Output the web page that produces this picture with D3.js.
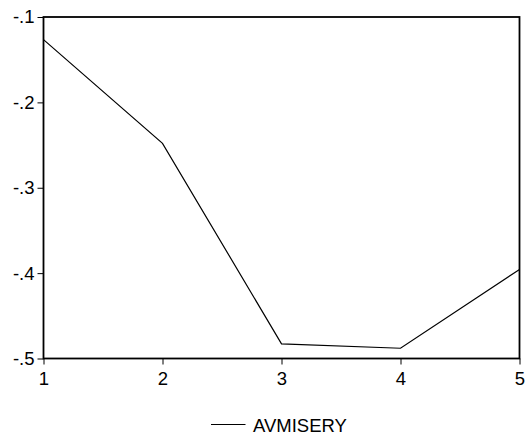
<!DOCTYPE html>
<html><head><meta charset="utf-8">
<script src="https://cdn.jsdelivr.net/npm/d3@7"></script>
<style>
html,body{margin:0;padding:0;background:#fff;}
text{font-family:"Liberation Sans",Arial,sans-serif;fill:#000;}
</style></head>
<body>
<svg id="c" width="526" height="438"></svg>
<script>
const categories = [1, 2, 3, 4, 5];
const avmisery = [-0.1265, -0.248, -0.4828, -0.488, -0.3957];
const yTicks = [-0.1, -0.2, -0.3, -0.4, -0.5];
const yTickLabels = ["-.1", "-.2", "-.3", "-.4", "-.5"];
const seriesName = "AVMISERY";

const svg = d3.select("#c");
const L = 43.5, R = 519.5, T = 17, B = 358.5;
const x = d3.scaleLinear().domain([1, 5]).range([L, R]);
const y = d3.scaleLinear().domain([-0.5, -0.1]).range([B, T]);

// frame
svg.append("rect").attr("x", L).attr("y", T).attr("width", R - L).attr("height", B - T)
  .attr("fill", "none").attr("stroke", "#000").attr("stroke-width", 1.8);

// y axis
const yAxis = d3.axisLeft(y).tickValues(yTicks).tickSize(6).tickPadding(3)
  .tickFormat((d, i) => yTickLabels[i]);
const gy = svg.append("g").attr("transform", `translate(${L},0)`).call(yAxis);
gy.select(".domain").remove();
gy.selectAll("line").attr("stroke", "#000");
gy.selectAll("text").attr("font-size", 18.5).attr("font-family", "Liberation Sans, Arial, sans-serif");

// x axis
const xAxis = d3.axisBottom(x).tickValues(categories).tickSize(6).tickPadding(7)
  .tickFormat(d3.format("d"));
const gx = svg.append("g").attr("transform", `translate(0,${B})`).call(xAxis);
gx.select(".domain").remove();
gx.selectAll("line").attr("stroke", "#000");
gx.selectAll("text").attr("font-size", 18.5).attr("font-family", "Liberation Sans, Arial, sans-serif");

// line
const line = d3.line().x((d, i) => x(categories[i])).y(d => y(d));
svg.append("path").datum(avmisery).attr("d", line)
  .attr("fill", "none").attr("stroke", "#000").attr("stroke-width", 1.2);

// legend
svg.append("line").attr("x1", 211).attr("x2", 245.5).attr("y1", 424.5).attr("y2", 424.5)
  .attr("stroke", "#000").attr("stroke-width", 1.2);
svg.append("text").attr("x", 253).attr("y", 431.5).attr("font-size", 18.5).text(seriesName);
</script>
</body></html>
